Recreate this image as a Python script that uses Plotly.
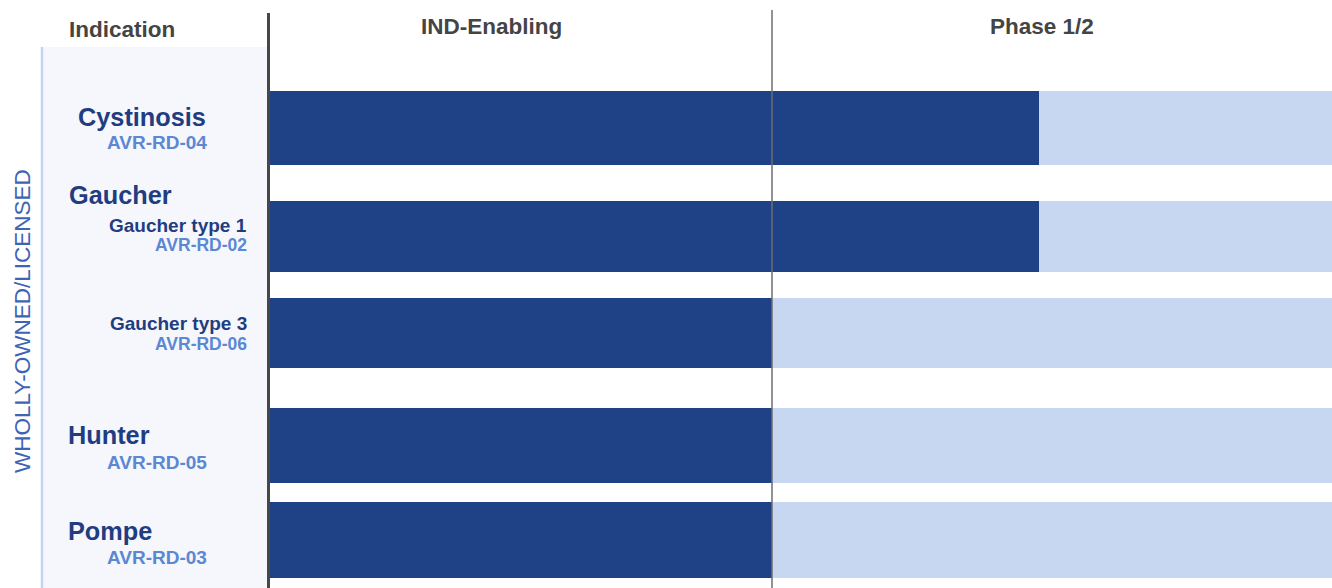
import plotly.graph_objects as go

# ---- data ----
stages = ["IND-Enabling", "Phase 1/2"]
indications = ["Cystinosis", "Gaucher type 1", "Gaucher type 3", "Hunter", "Pompe"]
programs = ["AVR-RD-04", "AVR-RD-02", "AVR-RD-06", "AVR-RD-05", "AVR-RD-03"]
progress = [1.53, 1.53, 1.0, 1.0, 1.0]       # in stage units (1 = end of IND-Enabling)
track_end = [2.12, 2.12, 2.12, 2.12, 2.12]
group_label = "WHOLLY-OWNED/LICENSED"
header_label = "Indication"

# ---- layout constants (pixels) ----
W, H = 1332, 588
X0 = 268
UNIT = 504.0
row_y = [128, 236.5, 333, 445.5, 540]
row_h = [74, 71, 70, 75, 76]

DARK = "#1F4287"
LIGHT = "#C7D6F1"
TXT_DARK = "#1F3D80"
TXT_LIGHT = "#5B87D3"
FONT = "Liberation Sans, Arial, sans-serif"

fig = go.Figure()
fig.add_trace(go.Bar(
    y=row_y, x=track_end, base=0, width=row_h, orientation="h",
    marker=dict(color=LIGHT, line=dict(width=0)), hoverinfo="skip", showlegend=False))
fig.add_trace(go.Bar(
    y=row_y, x=progress, base=0, width=row_h, orientation="h",
    marker=dict(color=DARK, line=dict(width=0)),
    customdata=indications, hovertemplate="%{customdata}<extra></extra>", showlegend=False))

xmax = (W - X0) / UNIT

def px(x):
    return x / W

shapes = [
    # left panel background
    dict(type="rect", xref="paper", yref="y", x0=px(42), x1=px(267), y0=47, y1=H,
         fillcolor="#F5F7FC", line=dict(width=0), layer="below"),
    dict(type="line", xref="paper", yref="y", x0=px(42), x1=px(42), y0=47, y1=H,
         line=dict(color="#C5D3EE", width=2.5), layer="above"),
    # stage dividers
    dict(type="line", xref="paper", yref="y", x0=px(268.5), x1=px(268.5), y0=13, y1=H,
         line=dict(color="#474747", width=3), layer="above"),
    dict(type="line", xref="x", yref="y", x0=1.0, x1=1.0, y0=10, y1=H,
         line=dict(color="#6E6E6E", width=1.5), layer="above"),
]

ann = []
def add(text, x, y, size, color, anchor="left", bold=True, xref="paper"):
    ann.append(dict(text=(f"<b>{text}</b>" if bold else text), x=x, y=y, xref=xref, yref="y",
                    xanchor=anchor, yanchor="middle", showarrow=False,
                    font=dict(family=FONT, size=size, color=color)))

L = -2   # left-anchored padding compensation
R = 2.5  # right-anchored padding compensation

# headers
add(header_label, px(69 + L), 29, 22.5, "#444444")
stage_centers = [0.443, 1.536]
for s, c in zip(stages, stage_centers):
    add(s, c, 26, 22.5, "#444444", anchor="center", xref="x")

# row labels
add(indications[0], px(78 + L), 117, 25.3, TXT_DARK)
add(programs[0], px(206 + R), 142, 19, TXT_LIGHT, anchor="right")
add("Gaucher", px(69 + L), 195, 25.3, TXT_DARK)
add(indications[1], px(246 + R), 225, 19, TXT_DARK, anchor="right")
add(programs[1], px(246 + R), 244.5, 17.5, TXT_LIGHT, anchor="right")
add(indications[2], px(246 + R), 323, 19, TXT_DARK, anchor="right")
add(programs[2], px(246 + R), 343.5, 17.5, TXT_LIGHT, anchor="right")
add(indications[3], px(68 + L), 435, 25.3, TXT_DARK)
add(programs[3], px(206 + R), 462, 19, TXT_LIGHT, anchor="right")
add(indications[4], px(68 + L), 531, 25.3, TXT_DARK)
add(programs[4], px(206 + R), 557, 19, TXT_LIGHT, anchor="right")

ann.append(dict(text=group_label, x=px(22), y=321, xref="paper", yref="y",
                xanchor="center", yanchor="middle", showarrow=False, textangle=-90,
                font=dict(family=FONT, size=22.5, color="#3F63B5")))

fig.update_layout(
    width=W, height=H, margin=dict(l=0, r=0, t=0, b=0),
    paper_bgcolor="white", plot_bgcolor="white",
    barmode="overlay", bargap=0,
    xaxis=dict(domain=[X0 / W, 1], range=[0, xmax], visible=False, fixedrange=True),
    yaxis=dict(domain=[0, 1], range=[H, 0], visible=False, fixedrange=True),
    shapes=shapes, annotations=ann, showlegend=False,
)

fig.write_html("out.html", config={"displayModeBar": False},
               post_script="document.body.style.margin='0';document.body.style.overflow='hidden';")
